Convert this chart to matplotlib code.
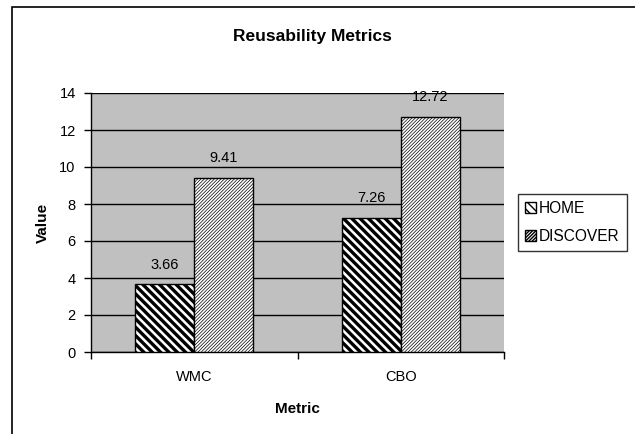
import matplotlib
matplotlib.use("Agg")
import matplotlib.pyplot as plt
from matplotlib.patches import Rectangle
import numpy as np

plt.rcParams['font.family'] = ['Liberation Sans', 'DejaVu Sans']

metrics = ['WMC', 'CBO']
home = [3.66, 7.26]
discover = [9.41, 12.72]
series_names = ['HOME', 'DISCOVER']
yticks = [0, 2, 4, 6, 8, 10, 12, 14]

W, H = 635, 434
fig = plt.figure(figsize=(W / 100, H / 100), dpi=100)
fig.patch.set_facecolor('white')

# outer chart border (runs off the right and bottom of the image)
fig.patches.append(Rectangle((12 / W, -0.05), 1.0, 1 - 7 / H + 0.05,
                             transform=fig.transFigure, fill=False,
                             edgecolor='black', linewidth=1.2))

ax = fig.add_axes([91 / W, 1 - 352 / H, (504 - 91) / W, (352 - 93) / H])
ax.set_facecolor('#c0c0c0')

x = np.arange(len(metrics))
bw = 0.286
b1 = ax.bar(x - bw / 2, home, bw, color='white', edgecolor='black',
            hatch='\\' * 4, linewidth=1.0, zorder=3, label=series_names[0])
b2 = ax.bar(x + bw / 2, discover, bw, color='white', edgecolor='black',
            hatch='/' * 10, linewidth=1.0, zorder=3, label=series_names[1])
for p in b1:
    if hasattr(p, 'set_hatch_linewidth'):
        p.set_hatch_linewidth(2.4)
for p in b2:
    if hasattr(p, 'set_hatch_linewidth'):
        p.set_hatch_linewidth(0.5)

for bars, vals in ((b1, home), (b2, discover)):
    for p, v in zip(bars, vals):
        ax.annotate('%.2f' % v, (p.get_x() + p.get_width() / 2, v),
                    xytext=(0, 9), textcoords='offset points',
                    ha='center', va='bottom', fontsize=10.5, zorder=4)

ax.set_xlim(-0.5, len(metrics) - 0.5)
ax.set_ylim(0, 14)
ax.set_yticks(yticks)
ax.set_yticklabels([str(t) for t in yticks], fontsize=10.5)
ax.yaxis.grid(True, color='black', linewidth=1.0, zorder=1)
ax.set_axisbelow(True)

# category ticks at group boundaries, labels centred
ax.set_xticks(np.arange(-0.5, len(metrics)), minor=False)
ax.set_xticklabels([])
ax.set_xticks(x, minor=True)
ax.set_xticklabels(metrics, minor=True, fontsize=10.5)
ax.tick_params(axis='x', which='minor', length=0, pad=13)
ax.tick_params(axis='x', which='major', length=5, direction='out', width=1)
ax.tick_params(axis='y', length=5, direction='out', width=1, pad=6)

for s in ('top', 'right'):
    ax.spines[s].set_visible(False)
ax.spines['left'].set_linewidth(1.0)
ax.spines['bottom'].set_linewidth(1.0)

ax.set_xlabel('Metric', fontsize=11, fontweight='bold', labelpad=13)
ax.set_ylabel('Value', fontsize=11, fontweight='bold', labelpad=7)
fig.text(312 / W, 1 - 36 / H, 'Reusability Metrics', ha='center',
         va='center', fontsize=12.5, fontweight='bold')

leg = fig.legend(handles=[b1, b2], labels=series_names,
                 loc='upper left', bbox_to_anchor=(518 / W, 1 - 194 / H),
                 frameon=True, fancybox=False, edgecolor='black',
                 fontsize=11.2, handlelength=0.7, handleheight=0.7,
                 handletextpad=0.2, borderpad=0.45, labelspacing=0.85,
                 borderaxespad=0)
leg.get_frame().set_linewidth(1.0)

fig.savefig('out.png', dpi=100)
